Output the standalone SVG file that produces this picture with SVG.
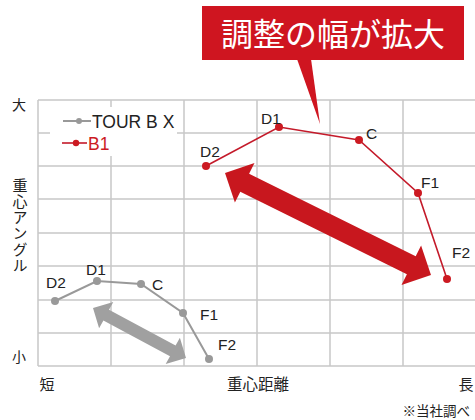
<svg xmlns="http://www.w3.org/2000/svg" width="475" height="420" viewBox="0 0 475 420">
<style>
.grid{stroke:#c8c8c8;stroke-width:1.5;fill:none}
.lat{font-family:"Liberation Sans",Arial,sans-serif;font-size:15.5px;fill:#222}
.jp{font-family:"Noto Sans CJK JP","Noto Sans",sans-serif;fill:#222}
.red{fill:#cc1a22}
.gray{fill:#999}
.rl{stroke:#c41a2a;stroke-width:1.6;fill:none}
.gl{stroke:#999;stroke-width:2;fill:none}
</style>
<rect width="475" height="420" fill="#fff"/>
<g id="grid">
<path class="grid" d="M38,100H475M38,133H475M38,166H475M38,199H475M38,233H475M38,266H475M38,300H475M38,333H475M38,366H475"/>
<path class="grid" d="M38,100V366M111,100V366M184,100V366M257,100V366M330,100V366M403,100V366"/>
</g>
<g id="legend">
<rect x="50" y="107" width="127" height="49" fill="#fff"/>
<line x1="63" y1="121" x2="91" y2="121" class="gl" stroke-width="1.6"/>
<circle cx="79" cy="121" r="3" class="gray"/>
<text x="92" y="128" class="lat" style="font-size:17.5px">TOUR B X</text>
<line x1="62" y1="143" x2="87" y2="143" class="rl"/>
<circle cx="76" cy="143" r="3.2" class="red"/>
<text x="88" y="150" class="lat" style="font-size:17.5px;fill:#cc1a22">B1</text>
</g>
<g id="axes-labels">
<text x="19" y="110" class="jp" font-size="14" text-anchor="middle">大</text>
<text x="19" y="362" class="jp" font-size="14" text-anchor="middle">小</text>
<text x="20" y="178" class="jp" font-size="15" style="writing-mode:vertical-rl;letter-spacing:1px">重心アングル</text>
<text x="47" y="390" class="jp" font-size="15" text-anchor="middle">短</text>
<text x="227" y="390" class="jp" font-size="15.5">重心距離</text>
<text x="466" y="390" class="jp" font-size="15" text-anchor="middle">長</text>
<text x="470" y="416" class="jp" font-size="13.5" text-anchor="end">※当社調べ</text>
</g>
<g id="connectors">
<polyline class="gl" points="55,301 97,281 141,284 183,313 209,359"/>
<polyline class="rl" points="206,166 279,127 359,140 418,193 447,279"/>
</g>
<g id="gray-points">
<g id="g-D2"><circle cx="55" cy="301" r="4" class="gray"/><text x="46" y="288" class="lat">D2</text></g>
<g id="g-D1"><circle cx="97" cy="281" r="4" class="gray"/><text x="86" y="275" class="lat">D1</text></g>
<g id="g-C"><circle cx="141" cy="284" r="4" class="gray"/><text x="152" y="290" class="lat">C</text></g>
<g id="g-F1"><circle cx="183" cy="313" r="4" class="gray"/><text x="200" y="320" class="lat">F1</text></g>
<g id="g-F2"><circle cx="209" cy="359" r="4" class="gray"/><text x="218" y="350" class="lat">F2</text></g>
</g>
<g id="red-points">
<g id="r-D2"><circle cx="206" cy="166" r="4" class="red"/><text x="200" y="157" class="lat">D2</text></g>
<g id="r-D1"><circle cx="279" cy="127" r="4" class="red"/><text x="261" y="124" class="lat">D1</text></g>
<g id="r-C"><circle cx="359" cy="140" r="4" class="red"/><text x="366" y="139" class="lat">C</text></g>
<g id="r-F1"><circle cx="418" cy="193" r="4" class="red"/><text x="421" y="188" class="lat">F1</text></g>
<g id="r-F2"><circle cx="447" cy="279" r="4" class="red"/><text x="452" y="258" class="lat">F2</text></g>
</g>
<g id="arrows">
<polygon fill="#c8171e" points="225,173 254.5,163.1 249.1,173.8 415.7,256.2 421.1,245.5 431,275 401.5,284.9 406.9,274.2 240.3,191.8 234.9,202.5"/>
<polygon fill="#a0a0a0" points="93,308 113.3,301.9 109.0,309.8 175.6,345.6 179.9,337.7 186,358 165.7,364.1 170.0,356.2 103.4,320.4 99.1,328.3"/>
</g>
<g id="callout">
<rect x="202" y="6" width="262" height="54" fill="#cf1520"/>
<polygon points="297,59 311,59 320,124" fill="#cf1520"/>
<text x="333" y="46" class="jp" font-size="32" text-anchor="middle" style="fill:#fff">調整の幅が拡大</text>
</g>
</svg>
